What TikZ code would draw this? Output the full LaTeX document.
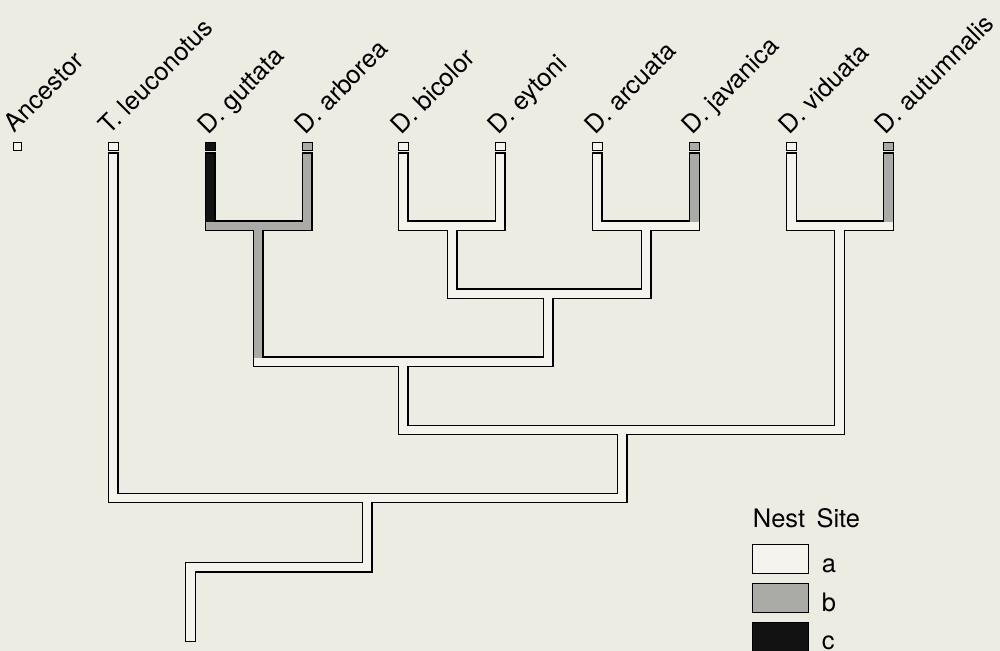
\documentclass[tikz,border=0pt]{standalone}
\usepackage{fontspec}
\setmainfont{TeX Gyre Heros}
\definecolor{paper}{RGB}{237,236,226}
\definecolor{sitea}{RGB}{244,243,236}
\definecolor{siteb}{RGB}{170,170,166}
\definecolor{sitec}{RGB}{18,18,18}

\begin{document}
\begin{tikzpicture}[x=0.02cm,y=-0.02cm]
  \tikzset{branch/.style={draw=black,line width=0.024cm,double=sitea,double distance=0.172cm,line cap=rect,line join=miter},
    paint/.style={draw=#1,line width=0.172cm,line cap=rect},
    tip box/.style={draw,line width=0.02cm,fill=#1,minimum width=0.2cm,minimum height=0.16cm,inner sep=0pt},
    taxon/.style={anchor=base west,rotate=45,inner sep=0pt,font=\fontsize{14.4}{17}\selectfont},
    key box/.style={draw,line width=0.02cm,fill=#1,minimum width=1.12cm,minimum height=0.6cm,inner sep=0pt},
    key text/.style={anchor=base west,inner sep=0pt,font=\fontsize{14.5}{17}\selectfont}}

  \fill [paper] (0,0) rectangle (1000,651);
  \useasboundingbox (0,0) rectangle (1000,651);

  % tips
  \node [tip box=sitea,minimum width=0.18cm] (Anc) at (17.5,147) {};
  \node [tip box=sitea] (Tle) at (113,147) {};
  \node [tip box=sitec] (Dgu) at (210,147) {};
  \node [tip box=siteb] (Dar) at (307,147) {};
  \node [tip box=sitea] (Dbi) at (403,147) {};
  \node [tip box=sitea] (Dey) at (500,147) {};
  \node [tip box=sitea] (Dac) at (597,147) {};
  \node [tip box=siteb] (Dja) at (694.5,147) {};
  \node [tip box=sitea] (Dvi) at (791.5,147) {};
  \node [tip box=siteb] (Dau) at (888.5,147) {};

  \node [taxon] at ([shift={(-3,-9)}]Anc.north) {Ancestor};
  \node [taxon] at ([shift={(-4,-7)}]Tle.north) {T. leuconotus};
  \node [taxon] at ([shift={(-2,-7)}]Dgu.north) {D. guttata};
  \node [taxon] at ([shift={(-2,-7)}]Dar.north) {D. arborea};
  \node [taxon] at ([shift={(-2,-7)}]Dbi.north) {D. bicolor};
  \node [taxon] at ([shift={(-2,-7)}]Dey.north) {D. eytoni};
  \node [taxon] at ([shift={(-2,-7)}]Dac.north) {D. arcuata};
  \node [taxon] at ([shift={(-2,-7)}]Dja.north) {D. javanica};
  \node [taxon] at ([shift={(-2,-7)}]Dvi.north) {D. viduata};
  \node [taxon] at ([shift={(-3,-7)}]Dau.north) {D. autumnalis};

  % branch ends and splits
  \coordinate (eTle) at (113,158);
  \coordinate (eDgu) at (210,158);
  \coordinate (eDar) at (307,158);
  \coordinate (eDbi) at (403,158);
  \coordinate (eDey) at (500,158);
  \coordinate (eDac) at (597,158);
  \coordinate (eDja) at (694.5,158);
  \coordinate (eDvi) at (791.5,158);
  \coordinate (eDau) at (888.5,158);
  \coordinate (base) at (190.5,636.5);
  \coordinate (n0) at (190.5,567);
  \coordinate (n1) at (367,498);
  \coordinate (n2) at (622,430);
  \coordinate (n3) at (403,362);
  \coordinate (n4) at (839.5,226);
  \coordinate (n5) at (258,226);
  \coordinate (n6) at (548,294);
  \coordinate (n7) at (452,226);
  \coordinate (n8) at (646,226);

  \draw [branch] (base) -- (n0) -| (n1)
    (n1) -| (eTle) (n1) -| (n2)
    (n2) -| (n3) (n2) -| (n4)
    (n3) -| (n5) (n3) -| (n6)
    (n6) -| (n7) (n6) -| (n8)
    (n5) -| (eDgu) (n5) -| (eDar)
    (n7) -| (eDbi) (n7) -| (eDey)
    (n8) -| (eDac) (n8) -| (eDja)
    (n4) -| (eDvi) (n4) -| (eDau);

  % nest sites b and c on the branches
  \draw [paint=siteb] (eDgu) |- (n5) -| (eDar);
  \draw [paint=siteb] (n5) -- (258,353.4);
  \draw [paint=siteb] (eDja) -- (694.5,217.4);
  \draw [paint=siteb] (eDau) -- (888.5,217.4);
  \draw [paint=sitec] (eDgu) -- (210,217.4);

  % key
  \node [key box=sitea] (ka) at (780,559) {};
  \node [key box=siteb] (kb) at (780,598) {};
  \node [key box=sitec] (kc) at (780,637) {};
  \node [key text] at ([shift={(1,-16)}]ka.north west) {Nest\hspace{0.45em}Site};
  \node [key text] at ([shift={(13,-1.5)}]ka.south east) {a};
  \node [key text] at ([shift={(13,-2)}]kb.south east) {b};
  \node [key text] at ([shift={(13,-3)}]kc.south east) {c};
\end{tikzpicture}
\end{document}
